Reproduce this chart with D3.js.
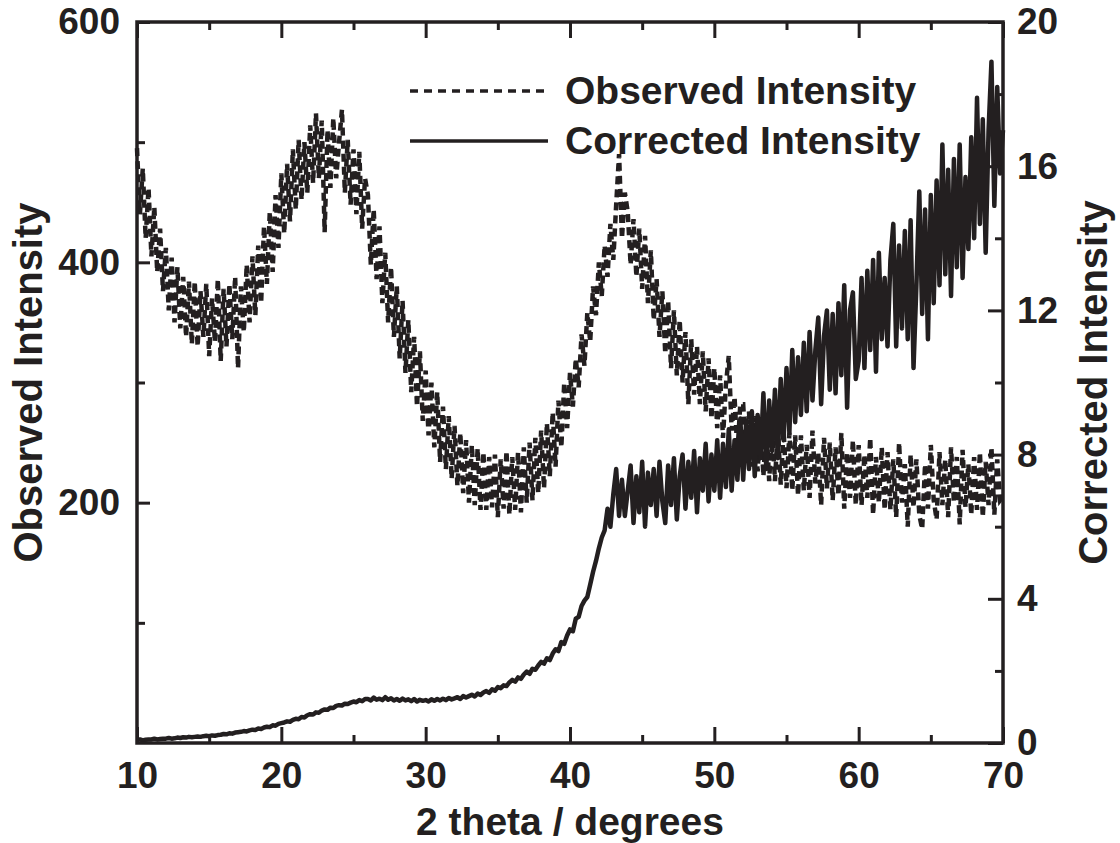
<!DOCTYPE html>
<html>
<head>
<meta charset="utf-8">
<script src="https://cdn.jsdelivr.net/npm/d3@7"></script>
<style>
  body { margin: 0; background: #fff; }
  text { font-family: "Liberation Sans", Arial, sans-serif; font-weight: bold; fill: #231f20; }
</style>
</head>
<body>
<div id="chart"></div>
<script>
// 2 theta grid: 10 to 70 degrees, one reading every 0.2 degrees
const thetaStart = 10;
const thetaStep = 0.2;

// observed intensity (left axis)
const observed = [
  495, 440, 478, 420, 462, 405, 446, 392, 428, 376,
  412, 360, 404, 350, 396, 345, 388, 338, 384, 332,
  384, 330, 376, 338, 382, 322, 370, 334, 386, 318,
  378, 330, 382, 336, 388, 312, 380, 342, 398, 350,
  405, 356, 414, 366, 430, 382, 442, 392, 456, 412,
  474, 424, 482, 434, 494, 444, 502, 452, 500, 458,
  514, 466, 524, 470, 518, 425, 510, 462, 520, 470,
  500, 527, 458, 502, 448, 494, 440, 492, 428, 470,
  456, 398, 444, 386, 430, 366, 408, 350, 396, 338,
  380, 320, 368, 308, 352, 292, 338, 280, 326, 268,
  310, 256, 300, 246, 292, 234, 280, 228, 272, 220,
  264, 214, 258, 208, 252, 200, 248, 198, 245, 194,
  242, 194, 238, 196, 240, 188, 236, 195, 243, 190,
  238, 194, 242, 192, 246, 200, 250, 202, 254, 208,
  260, 212, 266, 222, 275, 230, 285, 246, 300, 262,
  308, 280, 320, 296, 340, 314, 358, 334, 380, 356,
  400, 372, 414, 388, 432, 402, 448, 490, 420, 458,
  442, 398, 436, 388, 428, 378, 422, 366, 410, 352,
  386, 338, 376, 324, 368, 312, 360, 306, 352, 300,
  342, 282, 336, 290, 330, 282, 326, 276, 320, 270,
  312, 262, 306, 254, 298, 322, 260, 288, 242, 282,
  282, 236, 276, 230, 272, 226, 270, 222, 266, 218,
  265, 218, 262, 215, 260, 212, 258, 210, 256, 206,
  256, 210, 248, 204, 260, 216, 242, 198, 254, 212,
  250, 202, 246, 206, 258, 195, 242, 204, 252, 198,
  248, 198, 240, 204, 254, 190, 238, 200, 246, 194,
  242, 194, 236, 188, 250, 200, 232, 180, 240, 196,
  236, 190, 178, 232, 195, 248, 202, 186, 242, 198,
  236, 188, 246, 200, 238, 182, 244, 196, 232, 190,
  238, 194, 242, 188, 234, 198, 246, 190, 236, 202,
  205
];

// corrected intensity (right axis)
const corrected = [
  0.08, 0.10, 0.07, 0.09, 0.10, 0.10, 0.12, 0.10, 0.11, 0.12,
  0.12, 0.14, 0.12, 0.13, 0.15, 0.14, 0.16, 0.15, 0.17, 0.16,
  0.17, 0.18, 0.17, 0.19, 0.20, 0.19, 0.21, 0.20, 0.22, 0.23,
  0.25, 0.24, 0.27, 0.26, 0.29, 0.30, 0.31, 0.33, 0.32, 0.35,
  0.37, 0.36, 0.40, 0.39, 0.43, 0.45, 0.44, 0.49, 0.48, 0.53,
  0.55, 0.57, 0.60, 0.59, 0.64, 0.67, 0.66, 0.72, 0.71, 0.77,
  0.80, 0.79, 0.85, 0.84, 0.90, 0.93, 0.92, 0.98, 0.97, 1.03,
  1.05, 1.04, 1.09, 1.08, 1.12, 1.15, 1.13, 1.19, 1.16, 1.22,
  1.22, 1.18, 1.26, 1.20, 1.23, 1.19, 1.27, 1.20, 1.24, 1.18,
  1.22, 1.17, 1.23, 1.18, 1.21, 1.16, 1.22, 1.15, 1.20, 1.17,
  1.19, 1.15, 1.21, 1.17, 1.22, 1.18, 1.23, 1.19, 1.25, 1.21,
  1.24, 1.27, 1.22, 1.30, 1.26, 1.30, 1.34, 1.29, 1.37, 1.33,
  1.40, 1.44, 1.39, 1.49, 1.45, 1.55, 1.52, 1.60, 1.58, 1.68,
  1.75, 1.70, 1.82, 1.78, 1.90, 1.98, 1.92, 2.06, 2.03, 2.15,
  2.25, 2.20, 2.35, 2.30, 2.48, 2.60, 2.55, 2.80, 2.75, 2.98,
  3.15, 3.10, 3.45, 3.50, 3.80, 3.95, 4.05, 4.40, 4.75, 5.05,
  5.40, 5.70, 5.90, 6.50, 6.00, 6.90, 7.60, 6.30, 7.30, 6.30,
  7.00, 7.70, 6.10, 7.40, 6.40, 7.80, 6.00, 7.50, 6.60, 7.60,
  6.30, 7.80, 6.70, 6.10, 7.70, 6.60, 7.90, 6.20, 7.40, 8.00,
  6.50, 7.80, 6.80, 8.10, 6.40, 7.90, 7.00, 8.30, 6.70, 8.00,
  7.00, 8.40, 6.80, 8.30, 7.10, 8.70, 7.00, 8.40, 7.30, 9.00,
  7.30, 8.90, 7.60, 9.20, 7.40, 9.10, 7.90, 9.70, 7.60, 9.50,
  8.10, 9.80, 7.90, 10.10, 8.40, 10.40, 8.60, 10.90, 8.90, 10.70,
  9.10, 11.10, 9.20, 11.40, 9.50, 10.90, 11.80, 9.40, 11.30, 12.00,
  9.80, 11.90, 9.70, 12.20, 10.20, 12.70, 9.30, 12.00, 12.50, 10.10,
  10.60, 12.90, 10.40, 13.10, 10.90, 13.40, 10.30, 13.60, 11.20, 12.90,
  11.00, 13.40, 14.40, 11.00, 13.80, 11.50, 14.20, 11.20, 14.50, 10.40,
  12.70, 15.30, 11.90, 14.80, 11.20, 15.20, 12.20, 15.60, 12.70, 16.60,
  13.00, 15.90, 12.40, 16.20, 13.20, 16.60, 12.90, 15.70, 13.70, 16.80,
  14.00, 17.90, 14.40, 17.30, 13.60, 17.00, 18.90, 14.90, 18.20, 15.80,
  17.00
];

// ticks
const xMajor = [10, 20, 30, 40, 50, 60, 70];
const xMinor = [15, 25, 35, 45, 55, 65];
const yLeftMajor = [200, 400, 600];
const yLeftMinor = [100, 300, 500];
const yRightMajor = [0, 4, 8, 12, 16, 20];
const yRightMinor = [2, 6, 10, 14, 18];

const seriesNames = ["Observed Intensity", "Corrected Intensity"];

// chart frame
const svgWidth = 1120;
const svgHeight = 843;
const margin = { top: 22, right: 117, bottom: 100, left: 137 };
const width = svgWidth - margin.left - margin.right;
const height = svgHeight - margin.top - margin.bottom;
const ink = "#231f20";

const svg = d3.select("#chart")
  .append("svg")
  .attr("width", svgWidth)
  .attr("height", svgHeight);

const g = svg.append("g")
  .attr("transform", `translate(${margin.left}, ${margin.top})`);

const x = d3.scaleLinear().domain([10, 70]).range([0, width]);
const yLeft = d3.scaleLinear().domain([0, 600]).range([height, 0]);
const yRight = d3.scaleLinear().domain([0, 20]).range([height, 0]);

const theta = i => thetaStart + i * thetaStep;

// data lines
const obsLine = d3.line()
  .x((d, i) => x(theta(i)))
  .y(d => yLeft(d));

const corrLine = d3.line()
  .x((d, i) => x(theta(i)))
  .y(d => yRight(d));

g.append("path")
  .datum(observed)
  .attr("fill", "none")
  .attr("stroke", ink)
  .attr("stroke-width", 4.5)
  .attr("stroke-dasharray", "8,5")
  .attr("d", obsLine);

g.append("path")
  .datum(corrected)
  .attr("fill", "none")
  .attr("stroke", ink)
  .attr("stroke-width", 4.5)
  .attr("stroke-linejoin", "round")
  .attr("d", corrLine);

// axes, ticks point inward
function styleAxis(sel) {
  sel.select(".domain").remove();
  sel.selectAll(".tick line").attr("stroke", ink).attr("stroke-width", 3);
  sel.selectAll(".tick text").attr("fill", ink).style("font-size", "37px");
}

g.append("g")
  .attr("transform", `translate(0, ${height})`)
  .call(d3.axisBottom(x).tickValues(xMajor).tickSizeInner(-16).tickSizeOuter(0).tickPadding(19).tickFormat(d3.format("d")))
  .call(styleAxis);
g.append("g")
  .attr("transform", `translate(0, ${height})`)
  .call(d3.axisBottom(x).tickValues(xMinor).tickSizeInner(-8).tickSizeOuter(0).tickFormat(""))
  .call(styleAxis);

g.append("g")
  .call(d3.axisTop(x).tickValues(xMajor).tickSizeInner(-16).tickSizeOuter(0).tickFormat(""))
  .call(styleAxis);
g.append("g")
  .call(d3.axisTop(x).tickValues(xMinor).tickSizeInner(-8).tickSizeOuter(0).tickFormat(""))
  .call(styleAxis);

g.append("g")
  .call(d3.axisLeft(yLeft).tickValues(yLeftMajor).tickSizeInner(-13).tickSizeOuter(0).tickPadding(17))
  .call(styleAxis);
g.append("g")
  .call(d3.axisLeft(yLeft).tickValues(yLeftMinor).tickSizeInner(-8).tickSizeOuter(0).tickFormat(""))
  .call(styleAxis);

g.append("g")
  .attr("transform", `translate(${width}, 0)`)
  .call(d3.axisRight(yRight).tickValues(yRightMajor).tickSizeInner(-15).tickSizeOuter(0).tickPadding(14))
  .call(styleAxis);
g.append("g")
  .attr("transform", `translate(${width}, 0)`)
  .call(d3.axisRight(yRight).tickValues(yRightMinor).tickSizeInner(-8).tickSizeOuter(0).tickFormat(""))
  .call(styleAxis);

// frame
g.append("rect")
  .attr("width", width)
  .attr("height", height)
  .attr("fill", "none")
  .attr("stroke", ink)
  .attr("stroke-width", 3.5);

// axis titles
svg.append("text")
  .attr("x", margin.left + width / 2)
  .attr("y", 835)
  .attr("text-anchor", "middle")
  .style("font-size", "39px")
  .text("2 theta / degrees");

svg.append("text")
  .attr("transform", `translate(42, ${margin.top + height / 2}) rotate(-90)`)
  .attr("text-anchor", "middle")
  .style("font-size", "40px")
  .text("Observed Intensity");

svg.append("text")
  .attr("transform", `translate(1107, ${margin.top + height / 2}) rotate(-90)`)
  .attr("text-anchor", "middle")
  .style("font-size", "40px")
  .text("Corrected Intensity");

// legend
const legend = svg.append("g");
const legendRows = [
  { name: seriesNames[0], dash: "8,6", y: 91 },
  { name: seriesNames[1], dash: null, y: 141 }
];
legendRows.forEach(r => {
  legend.append("line")
    .attr("x1", 410).attr("x2", 548)
    .attr("y1", r.y).attr("y2", r.y)
    .attr("stroke", ink)
    .attr("stroke-width", 3.5)
    .attr("stroke-dasharray", r.dash);
  legend.append("text")
    .attr("x", 565)
    .attr("y", r.y + 13)
    .style("font-size", "39px")
    .text(r.name);
});
</script>
</body>
</html>
